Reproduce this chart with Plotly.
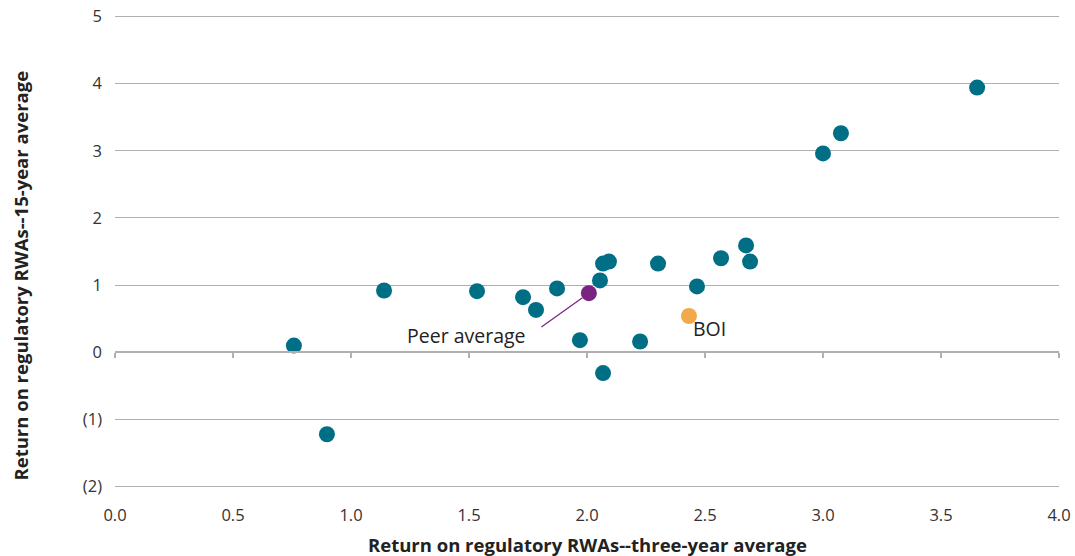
import plotly.graph_objects as go

# Peer banks
peer_x = [0.758, 0.898, 1.140, 1.534, 1.729, 1.784, 1.873, 1.970, 2.055, 2.068, 2.093,
          2.068, 2.225, 2.301, 2.466, 2.568, 2.674, 2.691, 3.000, 3.076, 3.653]
peer_y = [0.10, -1.22, 0.92, 0.91, 0.82, 0.63, 0.95, 0.18, 1.07, 1.32, 1.35,
          -0.31, 0.16, 1.32, 0.98, 1.40, 1.59, 1.35, 2.96, 3.26, 3.94]
avg_x = [2.008]
avg_y = [0.88]
boi_x = [2.432]
boi_y = [0.54]

x_ticks = [0, 0.5, 1.0, 1.5, 2.0, 2.5, 3.0, 3.5, 4.0]
x_ticktext = ["0.0", "0.5", "1.0", "1.5", "2.0", "2.5", "3.0", "3.5", "4.0"]
y_ticks = [-2, -1, 0, 1, 2, 3, 4, 5]
y_ticktext = ["(2)", "(1)", "0", "1", "2", "3", "4", "5"]

TEAL = "#006E85"
PURPLE = "#7A2383"
ORANGE = "#F2A94C"
GRID = "#B0B0B0"
FONT = "Open Sans"

fig = go.Figure()
fig.add_trace(go.Scatter(x=peer_x, y=peer_y, mode="markers",
                         marker=dict(size=16, color=TEAL), showlegend=False))
fig.add_trace(go.Scatter(x=avg_x, y=avg_y, mode="markers",
                         marker=dict(size=16, color=PURPLE), showlegend=False))
fig.add_trace(go.Scatter(x=boi_x, y=boi_y, mode="markers",
                         marker=dict(size=16, color=ORANGE), showlegend=False))
# invisible trace on overlay axis for zero-line ticks
fig.add_trace(go.Scatter(x=[None], y=[None], xaxis="x2", showlegend=False))

fig.update_layout(
    width=1075, height=556,
    margin=dict(l=115, r=16, t=13, b=66),
    paper_bgcolor="white", plot_bgcolor="white",
    font=dict(family=FONT, color="#333333", size=16),
    xaxis=dict(range=[0, 4], tickvals=x_ticks, ticktext=x_ticktext,
               showgrid=False, zeroline=False, showline=False, ticks="",
               automargin=False, ticklabelstandoff=13,
               tickfont=dict(size=16.5, color="#333333")),
    xaxis2=dict(range=[0, 4], overlaying="x", anchor="free", position=2.05 / 7.1,
                tickvals=x_ticks, showticklabels=False, showline=True,
                linecolor=GRID, linewidth=1.5, ticks="outside", ticklen=5,
                tickcolor=GRID, tickwidth=1.5, showgrid=False, zeroline=False,
                automargin=False, side="bottom"),
    yaxis=dict(range=[-2.05, 5.05], tickvals=y_ticks, ticktext=y_ticktext,
               showgrid=True, gridcolor=GRID, gridwidth=1.2, zeroline=False,
               showline=False, ticks="", ticklabelstandoff=12, automargin=False,
               tickfont=dict(size=16.5, color="#333333")),
    annotations=[
        dict(x=avg_x[0], y=avg_y[0], xref="x", yref="y", text="",
             showarrow=True, arrowhead=0, arrowwidth=1.2, arrowcolor=PURPLE,
             ax=-49, ay=35, standoff=8),
        dict(x=avg_x[0], y=avg_y[0], xref="x", yref="y", text="Peer average",
             showarrow=False, xanchor="right", yanchor="middle",
             xshift=-61, yshift=-42, font=dict(size=19.5, color="#222222")),
        dict(x=boi_x[0], y=boi_y[0], xref="x", yref="y", text="BOI",
             showarrow=False, xanchor="left", yanchor="middle",
             xshift=2, yshift=-12, font=dict(size=19.5, color="#222222")),
        dict(x=0.5, y=0, xref="paper", yref="paper", yshift=-54,
             text="<b>Return on regulatory RWAs--three-year average</b>",
             showarrow=False, xanchor="center", yanchor="middle",
             font=dict(size=18.5, color="#222222")),
        dict(x=0, y=0.5, xref="paper", yref="paper", xshift=-95, yshift=-24,
             text="<b>Return on regulatory RWAs--15-year average</b>", textangle=-90,
             showarrow=False, xanchor="center", yanchor="middle",
             font=dict(size=18.5, color="#222222")),
    ],
)

fig.write_html("out.html")
